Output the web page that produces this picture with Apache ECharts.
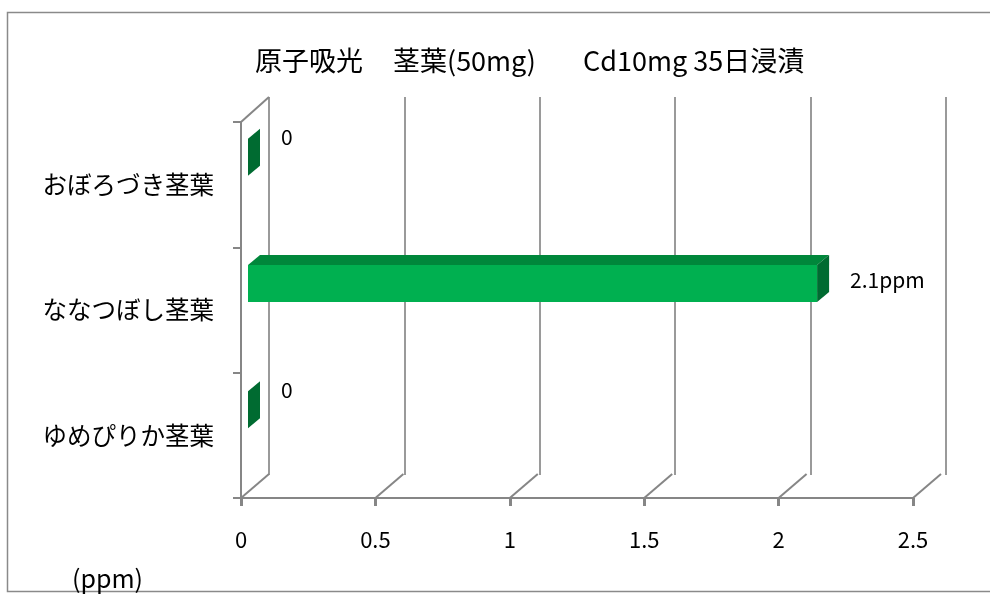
<!DOCTYPE html>
<html>
<head>
<meta charset="utf-8">
<script src="https://cdn.jsdelivr.net/npm/echarts@6/dist/echarts.min.js"></script>
<style>
html, body { margin: 0; padding: 0; background: #fff; }
#chart { width: 990px; height: 595px; }
</style>
</head>
<body>
<div id="chart"></div>
<script>
// 品種（上から順）
const categories = ['おぼろづき茎葉', 'ななつぼし茎葉', 'ゆめぴりか茎葉'];
// Cd濃度 (ppm)
const cdValues = [0, 2.1, 0];
const valueLabels = ['0', '2.1ppm', '0'];
// 横軸目盛
const xTicks = [0, 0.5, 1, 1.5, 2, 2.5];

const FONT = '"Noto Sans CJK JP", sans-serif';
const AXIS_GRAY = '#868686';
const DX = 12, DY = -10;   // 棒の奥行き
const WX = 28, WY = -24;   // 壁の奥行き

const chart = echarts.init(document.getElementById('chart'));

// 棒（立体風）
function renderBar(params, api) {
  const v = api.value(0);
  const c = api.value(1);
  const start = api.coord([0, c]);
  const end = api.coord([v, c]);
  const h = 37;
  const x0 = start[0], x1 = end[0];
  const yT = start[1] - h / 2, yB = start[1] + h / 2;
  const children = [];
  if (x1 - x0 > 0.5) {
    children.push({type: 'polygon', shape: {points: [[x0, yT], [x0 + DX, yT + DY], [x1 + DX, yT + DY], [x1, yT]]}, style: {fill: '#00873B'}});
    children.push({type: 'rect', shape: {x: x0, y: yT, width: x1 - x0, height: h}, style: {fill: '#00B050'}});
  }
  children.push({type: 'polygon', shape: {points: [[x1, yT], [x1 + DX, yT + DY], [x1 + DX, yB + DY], [x1, yB]]}, style: {fill: '#006B31'}});
  children.push({
    type: 'text',
    x: x1 + DX + 21,
    y: start[1] + (v === 0 ? -20 : -3),
    style: {text: valueLabels[params.dataIndex], fontSize: 21, fill: '#000', fontFamily: FONT, verticalAlign: 'middle'}
  });
  return {type: 'group', children: children};
}

// 床・壁の斜め線
function renderDepth(params, api) {
  const cs = params.coordSys;
  const x = api.coord([api.value(0), 0])[0];
  const bottom = cs.y + cs.height;
  const children = [{
    type: 'line',
    shape: {x1: x, y1: bottom, x2: x + WX, y2: bottom + WY},
    style: {stroke: AXIS_GRAY, lineWidth: 2}
  }];
  if (params.dataIndex === 0) {
    children.push({
      type: 'line',
      shape: {x1: x, y1: cs.y, x2: x + WX, y2: cs.y + WY - 1},
      style: {stroke: AXIS_GRAY, lineWidth: 2}
    });
  }
  return {type: 'group', children: children};
}

const titleStyle = {fontSize: 27, fontWeight: 'normal', color: '#000', fontFamily: FONT};

chart.setOption({
  animation: false,
  textStyle: {fontFamily: FONT},
  title: [
    {text: '原子吸光', left: 250, top: 42, textStyle: titleStyle},
    {text: '茎葉(50mg)', left: 388, top: 42, textStyle: titleStyle},
    {text: 'Cd10mg 35日浸漬', left: 578, top: 42, textStyle: titleStyle},
    {
      text: '(ppm)',
      left: 67, top: 561,
      textStyle: {fontSize: 25, fontWeight: 'normal', color: '#000', fontFamily: FONT}
    }
  ],
  graphic: [{
    type: 'rect',
    shape: {x: 7.5, y: 12.5, width: 1000, height: 579},
    style: {fill: 'none', stroke: '#8a8a8a', lineWidth: 1.5},
    silent: true
  }],
  grid: [
    {left: 269, right: 44, top: 97, bottom: 120},  // 奥の壁
    {left: 241, right: 77, top: 122, bottom: 97},  // 手前の軸
    {left: 248, right: 64.5, top: 94, bottom: 122} // 棒
  ],
  xAxis: [
    {
      gridIndex: 0, type: 'value', min: 0, max: 2.5, interval: 0.5,
      axisLabel: {show: false}, axisLine: {show: false}, axisTick: {show: false},
      splitLine: {show: true, lineStyle: {color: '#9a9a9a', width: 2}}
    },
    {
      gridIndex: 1, type: 'value', min: 0, max: 2.5, interval: 0.5,
      splitLine: {show: false},
      axisLine: {show: true, lineStyle: {color: AXIS_GRAY, width: 2}},
      axisTick: {show: true, length: 8, lineStyle: {color: AXIS_GRAY, width: 3}},
      axisLabel: {fontSize: 22, color: '#000', margin: 31, fontFamily: FONT}
    },
    {gridIndex: 2, type: 'value', min: 0, max: 2.5, show: false}
  ],
  yAxis: [
    {gridIndex: 0, type: 'category', data: categories, inverse: true, show: false},
    {
      gridIndex: 1, type: 'category', data: categories, inverse: true,
      axisLine: {show: true, lineStyle: {color: AXIS_GRAY, width: 2}},
      axisTick: {show: true, length: 8, lineStyle: {color: AXIS_GRAY, width: 2}},
      axisLabel: {fontSize: 24.5, color: '#000', margin: 27, fontFamily: FONT}
    },
    {gridIndex: 2, type: 'category', data: categories, inverse: true, show: false}
  ],
  series: [
    {
      type: 'custom',
      xAxisIndex: 1, yAxisIndex: 1,
      renderItem: renderDepth,
      data: xTicks.map(v => [v, 0]),
      silent: true
    },
    {
      type: 'custom',
      xAxisIndex: 2, yAxisIndex: 2,
      renderItem: renderBar,
      data: cdValues.map((v, i) => [v, i]),
      z: 5
    }
  ]
});
</script>
</body>
</html>
